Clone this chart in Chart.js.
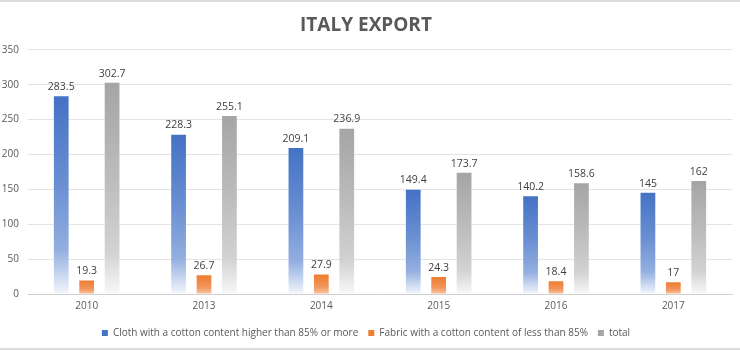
<!DOCTYPE html>
<html>
<head>
<meta charset="utf-8">
<script src="https://cdn.jsdelivr.net/npm/chart.js@4.4.1/dist/chart.umd.min.js"></script>
<style>
  html, body { margin: 0; padding: 0; background: #fff; }
  #wrap { position: relative; width: 740px; height: 350px; box-sizing: border-box; border-top: 2px solid #dcdcdc; border-bottom: 2px solid #dcdcdc; }
</style>
</head>
<body>
<div id="wrap"><canvas id="exportChart" width="740" height="346"></canvas></div>
<script>
// Italy export by year
const years = ['2010', '2013', '2014', '2015', '2016', '2017'];
const clothHigh = [283.5, 228.3, 209.1, 149.4, 140.2, 145];
const fabricLow = [19.3, 26.7, 27.9, 24.3, 18.4, 17];
const total = [302.7, 255.1, 236.9, 173.7, 158.6, 162];

const seriesColors = ['#4472C4', '#ED7D31', '#A5A5A5'];
const FONT = "'Open Sans', sans-serif";

// vertical fade inside each bar: solid on top, washed out at the base
function fade(stops) {
  return ctx => {
    const chart = ctx.chart;
    if (!chart.chartArea || ctx.raw == null) return stops[0][1];
    const y = chart.scales.y;
    const y0 = y.getPixelForValue(0), y1 = y.getPixelForValue(ctx.raw);
    const g = chart.ctx.createLinearGradient(0, y1, 0, y0);
    stops.forEach(([pos, col]) => g.addColorStop(pos, col));
    return g;
  };
}

// value labels above the bars
const valueLabels = {
  id: 'valueLabels',
  afterDatasetsDraw(chart) {
    const c = chart.ctx;
    c.save();
    c.font = '10.5px ' + FONT;
    c.fillStyle = '#404040';
    c.textAlign = 'center';
    c.textBaseline = 'bottom';
    chart.data.datasets.forEach((ds, i) => {
      chart.getDatasetMeta(i).data.forEach((bar, j) => {
        c.fillText(String(ds.data[j]), bar.x, bar.y - 4);
      });
    });
    c.restore();
  }
};

new Chart(document.getElementById('exportChart'), {
  type: 'bar',
  data: {
    labels: years,
    datasets: [
      { label: 'Cloth with a cotton content higher than 85% or more', data: clothHigh,
        backgroundColor: fade([[0, '#4472C4'], [0.45, '#6a8fd2'], [0.78, '#94afe0'], [1, '#f3f6fc']]) },
      { label: 'Fabric with a cotton content of less than 85%', data: fabricLow,
        backgroundColor: fade([[0, '#ED7D31'], [0.6, '#f19459'], [1, '#f7c4a0']]) },
      { label: 'total', data: total,
        backgroundColor: fade([[0, '#A5A5A5'], [0.45, '#bcbcbc'], [0.8, '#d2d2d2'], [1, '#f8f8f8']]) }
    ]
  },
  options: {
    responsive: false,
    animation: false,
    categoryPercentage: 0.65,
    barPercentage: 0.58,
    layout: { padding: { left: 0, right: 8, top: 4, bottom: 0 } },
    plugins: {
      title: {
        display: true,
        text: 'ITALY EXPORT',
        color: '#595959',
        font: { family: FONT, size: 19, weight: 'bold' },
        padding: { top: 8, bottom: 13 }
      },
      legend: {
        position: 'bottom',
        labels: {
          color: '#595959',
          font: { family: FONT, size: 10 },
          boxWidth: 6,
          boxHeight: 6,
          padding: 10,
          generateLabels(chart) {
            const items = Chart.defaults.plugins.legend.labels.generateLabels(chart);
            items.forEach((it, i) => {
              it.fillStyle = seriesColors[i];
              it.strokeStyle = seriesColors[i];
              it.lineWidth = 0;
            });
            return items;
          }
        }
      },
      tooltip: { enabled: false }
    },
    scales: {
      x: {
        grid: { display: false, drawTicks: false },
        border: { color: '#d0d0d0' },
        ticks: { color: '#595959', font: { family: FONT, size: 10 }, padding: 6 }
      },
      y: {
        min: 0,
        max: 350,
        ticks: { stepSize: 50, color: '#595959', font: { family: FONT, size: 10 }, padding: 9 },
        grid: { color: '#e3e3e3', drawTicks: false },
        border: { display: false },
        afterFit(scale) { scale.width = 28; }
      }
    }
  },
  plugins: [valueLabels]
});
</script>
</body>
</html>
